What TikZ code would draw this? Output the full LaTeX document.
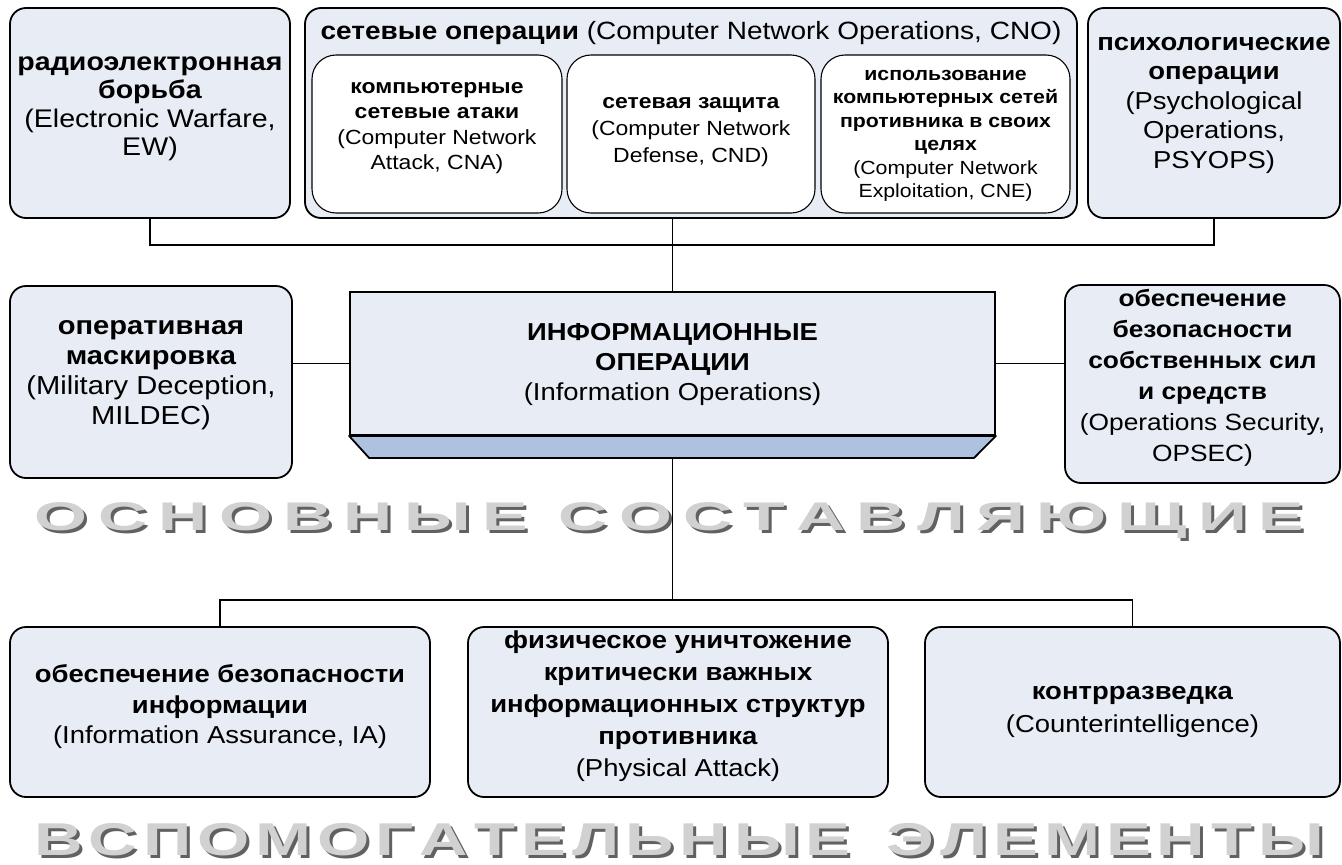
\documentclass[tikz,border=0pt]{standalone}
\usepackage{fontspec}
\setmainfont{Liberation Sans}[FakeStretch=1.12]
\newfontfamily\bigfontA{Liberation Sans}[FakeStretch=1.7]
\newfontfamily\bigfontB{Liberation Sans}[FakeStretch=1.46]
\usetikzlibrary{calc}
\definecolor{boxfill}{RGB}{232,236,244}
\definecolor{sidefill}{RGB}{174,194,224}
\newcommand{\fsz}[2]{\fontsize{#1}{#2}\selectfont}
\newcommand{\lineA}{\makebox[1270pt][s]{О\hfill С\hfill Н\hfill О\hfill В\hfill Н\hfill Ы\hfill Е\hspace{20pt}\hfill С\hfill О\hfill С\hfill Т\hfill А\hfill В\hfill Л\hfill Я\hfill Ю\hfill Щ\hfill И\hfill Е}}
\newcommand{\lineB}{\makebox[1290pt][s]{В\hfill С\hfill П\hfill О\hfill М\hfill О\hfill Г\hfill А\hfill Т\hfill Е\hfill Л\hfill Ь\hfill Н\hfill Ы\hfill Е\hspace{30pt}\hfill Э\hfill Л\hfill Е\hfill М\hfill Е\hfill Н\hfill Т\hfill Ы}}
\tikzset{
  box/.style={draw=black, line width=1.8pt, rounded corners=16pt, fill=boxfill, inner sep=0pt},
  inbox/.style={draw=black, line width=1.1pt, rounded corners=24pt, fill=white, inner sep=0pt},
  txt/.style={align=center, inner sep=0pt, text=black},
  conn/.style={draw=black, line width=1.6pt},
  bigshadow/.style={text=black!62, inner sep=0pt, anchor=base west},
  bigface/.style={text=black!18, inner sep=0pt, anchor=base west},
}
\begin{document}
\begin{tikzpicture}[x=1pt,y=-1pt]
\useasboundingbox (0,0) rectangle (1342,865);
\fill[white] (0,0) rectangle (1342,865);

% top row
\node[box, minimum width=280, minimum height=210] (ew) at (150,113) {};
\node[txt, font=\fsz{25.5}{28.5}] (ewt) at (150,109) {\textbf{радиоэлектронная}\\\textbf{борьба}\\(Electronic Warfare,\\EW)};

\node[box, minimum width=772, minimum height=210] (cno) at (691,113) {};
\node[txt, font=\fsz{25}{29}] (cnot) at (691,33) {\textbf{сетевые операции} (Computer Network Operations, CNO)};
\node[inbox, minimum width=250, minimum height=158] (cna) at (437,134) {};
\node[txt, font=\fsz{20.5}{25.5}] (cnat) at (437,128) {\textbf{компьютерные}\\\textbf{сетевые атаки}\\(Computer Network\\Attack, CNA)};
\node[inbox, minimum width=248, minimum height=158] (cnd) at (691,134) {};
\node[txt, font=\fsz{20.5}{27}] (cndt) at (691,132) {\textbf{сетевая защита}\\(Computer Network\\Defense, CND)};
\node[inbox, minimum width=249, minimum height=158] (cne) at (945.5,134) {};
\node[txt, font=\fsz{19}{23.5}] (cnet) at (945.5,136) {\textbf{использование}\\\textbf{компьютерных сетей}\\\textbf{противника в своих}\\\textbf{целях}\\(Computer Network\\Exploitation, CNE)};

\node[box, minimum width=252, minimum height=210] (psy) at (1214,113) {};
\node[txt, font=\fsz{24.5}{29.5}] (psyt) at (1214,105) {\textbf{психологические}\\\textbf{операции}\\(Psychological\\Operations,\\PSYOPS)};

% middle row
\node[box, minimum width=282, minimum height=192] (mil) at (151,382) {};
\node[txt, font=\fsz{26}{30}] (milt) at (151,375) {\textbf{оперативная}\\\textbf{маскировка}\\(Military Deception,\\MILDEC)};

\node[draw=black, line width=1.8pt, fill=boxfill, minimum width=645, minimum height=143, inner sep=0pt] (io) at (672.5,363.5) {};
\filldraw[fill=sidefill, line width=1.8pt, line join=round] (io.south west) -- ++(20,22) -- ++(605,0) -- (io.south east) -- cycle;
\node[txt, font=\fsz{24.5}{30}] (iot) at (672.5,364) {\textbf{ИНФОРМАЦИОННЫЕ}\\\textbf{ОПЕРАЦИИ}\\(Information Operations)};

\node[box, minimum width=275, minimum height=198] (ops) at (1202.5,384) {};
\node[txt, font=\fsz{23.5}{31}] (opst) at (1202.5,378) {\textbf{обеспечение}\\\textbf{безопасности}\\\textbf{собственных сил}\\\textbf{и средств}\\(Operations Security,\\OPSEC)};

% bottom row
\node[box, minimum width=420, minimum height=170] (ia) at (220,712) {};
\node[txt, font=\fsz{24.5}{30.5}] (iat) at (220,707) {\textbf{обеспечение безопасности}\\\textbf{информации}\\(Information Assurance, IA)};

\node[box, minimum width=420, minimum height=170] (pa) at (678,712) {};
\node[txt, font=\fsz{24.5}{32}] (pat) at (678,706) {\textbf{физическое уничтожение}\\\textbf{критически важных}\\\textbf{информационных структур}\\\textbf{противника}\\(Physical Attack)};

\node[box, minimum width=415, minimum height=170] (ci) at (1132.5,712) {};
\node[txt, font=\fsz{24.5}{33}] (cit) at (1132.5,712) {\textbf{контрразведка}\\(Counterintelligence)};

% big captions
\node[bigshadow, font=\bigfontA\bfseries\fsz{40}{42}] (t1s) at (37,533) {\lineA};
\node[bigface, font=\bigfontA\bfseries\fsz{40}{42}] (t1) at (34,530) {\lineA};

\node[bigshadow, font=\bigfontB\bfseries\fsz{46}{48}] (t2s) at (37,858) {\lineB};
\node[bigface, font=\bigfontB\bfseries\fsz{46}{48}] (t2) at (34,855) {\lineB};

% connectors
\coordinate (bus1) at (672.5,245);
\draw[conn] (ew.south) |- (bus1) -| (psy.south);
\draw[conn] (io.north) -- (io.north |- cno.south);
\draw[conn] (io.west) -- (io.west -| mil.east);
\draw[conn] (io.east) -- (io.east -| ops.west);
\coordinate (iob) at (672.5,457);
\coordinate (bus2) at (672.5,600);
\draw[conn] (iob) -- (bus2);
\draw[conn] (ia.north) |- (bus2) -| (ci.north);
\end{tikzpicture}
\end{document}
